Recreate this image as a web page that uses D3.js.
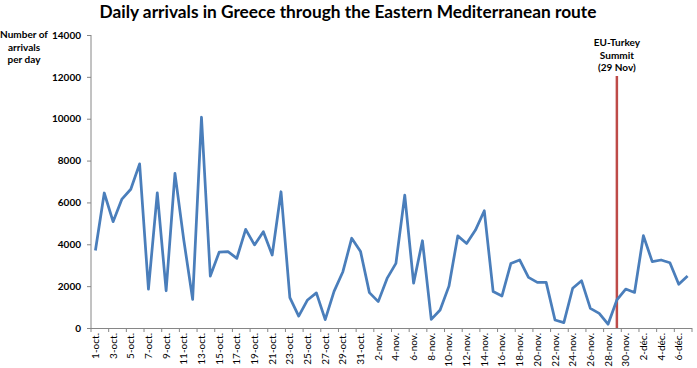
<!DOCTYPE html>
<html>
<head>
<meta charset="utf-8">
<script src="https://cdn.jsdelivr.net/npm/d3@7"></script>
<style>
  body { margin: 0; background: #fff; }
  text { font-family: Lato, "Open Sans", sans-serif; }
</style>
</head>
<body>
<div id="chart"></div>
<script>
var dates = [
  '1-oct.','2-oct.','3-oct.','4-oct.','5-oct.','6-oct.','7-oct.','8-oct.','9-oct.','10-oct.',
  '11-oct.','12-oct.','13-oct.','14-oct.','15-oct.','16-oct.','17-oct.','18-oct.','19-oct.','20-oct.',
  '21-oct.','22-oct.','23-oct.','24-oct.','25-oct.','26-oct.','27-oct.','28-oct.','29-oct.','30-oct.','31-oct.',
  '1-nov.','2-nov.','3-nov.','4-nov.','5-nov.','6-nov.','7-nov.','8-nov.','9-nov.','10-nov.',
  '11-nov.','12-nov.','13-nov.','14-nov.','15-nov.','16-nov.','17-nov.','18-nov.','19-nov.','20-nov.',
  '21-nov.','22-nov.','23-nov.','24-nov.','25-nov.','26-nov.','27-nov.','28-nov.','29-nov.','30-nov.',
  '1-déc.','2-déc.','3-déc.','4-déc.','5-déc.','6-déc.','7-déc.'
];

var octArrivals = [3700, 6450, 5080, 6160, 6630, 7840, 1860, 6460, 1780, 7390,
  4200, 1370, 10070, 2480, 3620, 3650, 3330, 4710, 3970, 4600,
  3490, 6510, 1450, 570, 1340, 1680, 400, 1750, 2690, 4290, 3650];
var novArrivals = [1690, 1260, 2370, 3090, 6350, 2140, 4170, 410, 860, 2000,
  4400, 4040, 4680, 5600, 1740, 1530, 3080, 3250, 2420, 2180,
  2180, 380, 260, 1900, 2260, 940, 700, 180, 1340, 1860];
var decArrivals = [1700, 4410, 3170, 3250, 3120, 2090, 2490];

var yTicks = [0, 2000, 4000, 6000, 8000, 10000, 12000, 14000];
var summitDate = '29-nov.';
var summitLabel = ['EU-Turkey', 'Summit', '(29 Nov)'];

var arrivals = octArrivals.concat(novArrivals, decArrivals);
var data = dates.map(function(d, i) { return { date: d, value: arrivals[i] }; });

var w = 697, h = 368;
var plotLeft = 91, plotRight = 692, plotTop = 35, plotBottom = 328;

var svg = d3.select('#chart').append('svg')
  .attr('width', w)
  .attr('height', h);

var x = d3.scaleBand().domain(dates).range([plotLeft, plotRight]).padding(0);
var y = d3.scaleLinear().domain([0, 14000]).range([plotBottom, plotTop]);
var xc = function(d) { return x(d) + x.bandwidth() / 2; };

// title
svg.append('text')
  .attr('x', 348).attr('y', 18)
  .attr('text-anchor', 'middle')
  .style('font-size', '17.3px').style('font-weight', 'bold')
  .text('Daily arrivals in Greece through the Eastern Mediterranean route');

// y axis title
svg.append('text')
  .attr('text-anchor', 'middle')
  .style('font-size', '10px').style('font-weight', 'bold')
  .selectAll('tspan')
  .data(['Number of', 'arrivals', 'per day'])
  .enter().append('tspan')
  .attr('x', 24)
  .attr('y', function(d, i) { return 38 + i * 12.5; })
  .text(function(d) { return d; });

// y axis
var yAxis = svg.append('g')
  .attr('transform', 'translate(' + plotLeft + ',0)')
  .call(d3.axisLeft(y).tickValues(yTicks).tickSize(4).tickPadding(6).tickFormat(d3.format('d')));
yAxis.selectAll('text').style('font-size', '10px').style('font-weight', 'bold').attr('fill', '#000');
yAxis.selectAll('line, path').attr('stroke', '#868686');
yAxis.select('.domain').attr('d', 'M0,' + plotTop + 'V' + plotBottom);

// x axis: tick marks every two categories on the boundaries
var tickIdx = d3.range(0, dates.length + 1, 2);
svg.append('g').selectAll('line')
  .data(tickIdx)
  .enter().append('line')
  .attr('x1', function(i) { return plotLeft + i * x.bandwidth(); })
  .attr('x2', function(i) { return plotLeft + i * x.bandwidth(); })
  .attr('y1', plotBottom).attr('y2', plotBottom + 4)
  .attr('stroke', '#868686');
svg.append('line')
  .attr('x1', plotLeft).attr('x2', plotRight)
  .attr('y1', plotBottom + 0.5).attr('y2', plotBottom + 0.5)
  .attr('stroke', '#868686');

// x labels
svg.append('g').selectAll('text')
  .data(dates.filter(function(d, i) { return i % 2 === 0; }))
  .enter().append('text')
  .attr('transform', function(d) { return 'translate(' + (xc(d) + 3.5) + ',' + (plotBottom + 5) + ') rotate(-90)'; })
  .attr('text-anchor', 'end')
  .style('font-size', '10px')
  .text(function(d) { return d; });

// summit marker
var sx = xc(summitDate);
svg.append('line')
  .attr('x1', sx).attr('x2', sx)
  .attr('y1', 76).attr('y2', plotBottom)
  .attr('stroke', '#be4b48').attr('stroke-width', 2.5);
svg.append('text')
  .attr('text-anchor', 'middle')
  .style('font-size', '10px').style('font-weight', 'bold')
  .selectAll('tspan')
  .data(summitLabel)
  .enter().append('tspan')
  .attr('x', sx)
  .attr('y', function(d, i) { return 46 + i * 12.5; })
  .text(function(d) { return d; });

// line
var line = d3.line()
  .x(function(d) { return xc(d.date); })
  .y(function(d) { return y(d.value); });

svg.append('path')
  .datum(data)
  .attr('d', line)
  .attr('fill', 'none')
  .attr('stroke', '#4a7ebb')
  .attr('stroke-width', 2.75)
  .attr('stroke-linejoin', 'round');
</script>
</body>
</html>
